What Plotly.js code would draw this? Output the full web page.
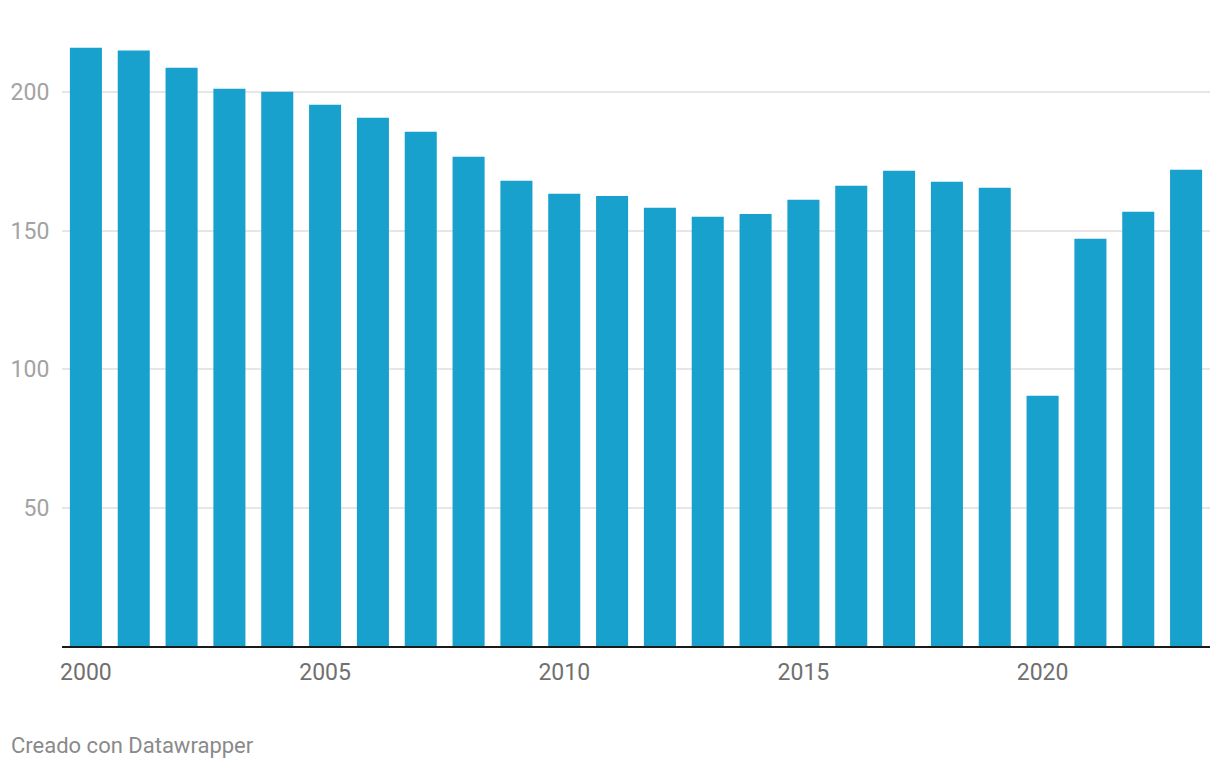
<!DOCTYPE html>
<html>
<head>
<meta charset="utf-8">
<script src="https://cdn.plot.ly/plotly-3.0.1.min.js"></script>
<style>
html,body{margin:0;padding:0;background:#fff;}
#chart{width:1220px;height:768px;}
</style>
</head>
<body>
<div id="chart"></div>
<script>
const years = [2000,2001,2002,2003,2004,2005,2006,2007,2008,2009,2010,2011,2012,2013,2014,2015,2016,2017,2018,2019,2020,2021,2022,2023];
const values = [216.1,215.1,208.9,201.3,200.2,195.5,190.8,185.8,176.7,168.1,163.4,162.6,158.3,155.1,156.1,161.2,166.3,171.7,167.7,165.5,90.4,147.1,156.9,172.0];
const xTicks = [2000,2005,2010,2015,2020];
const yTicks = [50,100,150,200];
const credit = 'Creado con Datawrapper';

const trace = {
  type: 'bar',
  x: years,
  y: values,
  marker: {color: '#19a1cd'},
  hoverinfo: 'x+y'
};

const layout = {
  width: 1220,
  height: 768,
  margin: {l: 62, r: 10, t: 37, b: 122},
  paper_bgcolor: '#ffffff',
  plot_bgcolor: '#ffffff',
  bargap: 0.33,
  showlegend: false,
  font: {family: 'Roboto, sans-serif'},
  xaxis: {
    range: [1999.5, 2023.5],
    tickvals: xTicks,
    ticktext: xTicks.map(String),
    showgrid: false,
    zeroline: false,
    showline: true,
    linecolor: '#1a1a1a',
    linewidth: 2,
    ticks: 'outside',
    ticklen: 4,
    tickcolor: 'rgba(0,0,0,0)',
    tickfont: {family: 'Roboto, sans-serif', size: 23, color: '#707070'},
    fixedrange: true
  },
  yaxis: {
    range: [0, 220],
    tickvals: yTicks,
    ticktext: yTicks.map(String),
    showgrid: true,
    gridcolor: '#e6e6e6',
    gridwidth: 2,
    zeroline: false,
    showline: false,
    ticks: 'outside',
    ticklen: 7,
    tickcolor: 'rgba(0,0,0,0)',
    tickfont: {family: 'Roboto, sans-serif', size: 23, color: '#a3a3a3'},
    fixedrange: true
  },
  annotations: [{
    text: credit,
    xref: 'paper', yref: 'paper',
    x: 0, y: 0,
    xanchor: 'left', yanchor: 'middle',
    xshift: -53, yshift: -99,
    showarrow: false,
    font: {family: 'Roboto, sans-serif', size: 22, color: '#8a8a8a'}
  }]
};

Plotly.newPlot('chart', [trace], layout, {displayModeBar: false, staticPlot: false});
</script>
</body>
</html>
